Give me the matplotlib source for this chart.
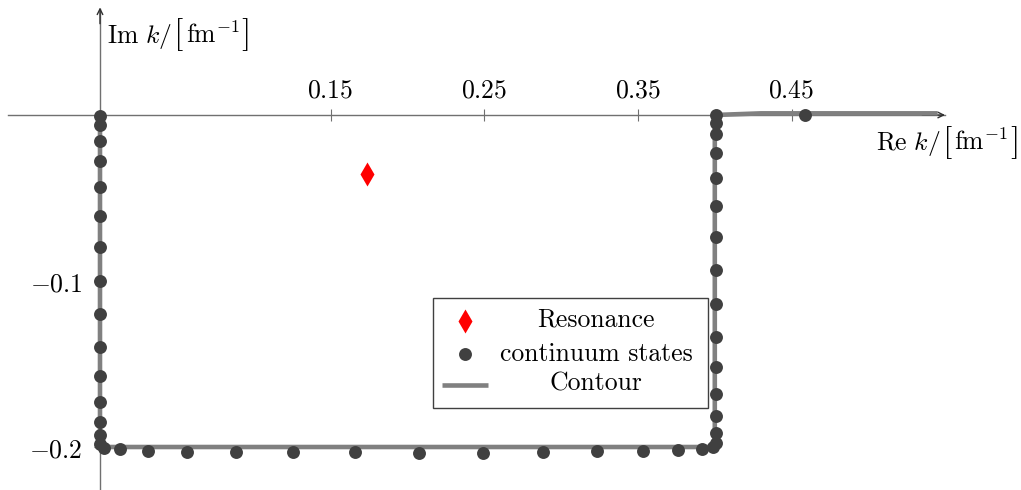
import matplotlib
matplotlib.use("Agg")
import matplotlib.pyplot as plt
from matplotlib.patches import Rectangle

plt.rcParams['mathtext.fontset'] = 'cm'
plt.rcParams['axes.unicode_minus'] = False

# ---- data ----
contour_re = [0.0, 0.0, 0.4, 0.4, 0.43, 0.545]
contour_im = [0.0, -0.2, -0.2, 0.0, 0.001, 0.001]

left_re = [0.0] * 15
left_im = [-0.0006, -0.0060, -0.0154, -0.0277, -0.0431, -0.0607, -0.0797, -0.1002,
           -0.1201, -0.1395, -0.1575, -0.1726, -0.1850, -0.1930, -0.1984]

bottom_re = [0.0026, 0.0130, 0.0315, 0.0568, 0.0885, 0.1254, 0.1659, 0.2078,
             0.2492, 0.2885, 0.3234, 0.3532, 0.3759, 0.3915, 0.3991]
bottom_im = [-0.2008, -0.2014, -0.2024, -0.2028, -0.2032, -0.2032, -0.2032, -0.2034,
             -0.2034, -0.2030, -0.2026, -0.2022, -0.2018, -0.2014, -0.1998]

right_re = [0.4010] * 15
right_im = [-0.1978, -0.1918, -0.1813, -0.1681, -0.1520, -0.1336, -0.1139, -0.0934,
            -0.0733, -0.0548, -0.0381, -0.0231, -0.0116, -0.0046, 0.0]

extra_re = [0.4587]
extra_im = [0.0]

res_re = [0.1737]
res_im = [-0.0355]

xticks = [0.15, 0.25, 0.35, 0.45]
xticklabels = ['$0.15$', '$0.25$', '$0.35$', '$0.45$']
yticks = [-0.1, -0.2]
yticklabels = ['$-0.1$', '$-0.2$']

legend_labels = ['Resonance', 'continuum states', 'Contour']

# ---- style ----
axcol = '#707070'
dotcol = '#404040'
contcol = '#808080'
fs = 18.5
W, H = 1021, 490

fig = plt.figure(figsize=(W / 100, H / 100), dpi=100)
ax = fig.add_axes([0, 0, 1, 1])
ax.set_xlim(-0.06506, 0.59922)
ax.set_ylim(-0.22590, 0.06928)
ax.patch.set_alpha(0)

for s in ['bottom', 'right']:
    ax.spines[s].set_visible(False)
ax.spines['top'].set_position(('data', 0))
ax.spines['left'].set_position(('data', 0))
ax.spines['top'].set_bounds(-0.0599, 0.5495)
ax.spines['left'].set_bounds(-0.2259, 0.0640)
for s in ['top', 'left']:
    ax.spines[s].set_color(axcol)
    ax.spines[s].set_linewidth(1.0)
    ax.spines[s].set_zorder(1)

ax.xaxis.set_ticks_position('top')
ax.yaxis.set_ticks_position('left')
ax.set_xticks(xticks, labels=xticklabels)
ax.set_yticks(yticks, labels=yticklabels)
ax.tick_params(axis='x', direction='inout', length=8, width=0.8, color=axcol,
               pad=4.5, labelsize=fs)
ax.tick_params(axis='y', direction='inout', length=8, width=0.8, color=axcol,
               pad=8.5, labelsize=fs)

# arrow heads
ax.annotate('', xy=(0.5498, 0), xytext=(0.535, 0),
            arrowprops=dict(arrowstyle='->', lw=1.0, color='#303030',
                            shrinkA=0, shrinkB=0, mutation_scale=10))
ax.annotate('', xy=(0, 0.0648), xytext=(0, 0.055),
            arrowprops=dict(arrowstyle='->', lw=1.0, color='#303030',
                            shrinkA=0, shrinkB=0, mutation_scale=10))

# axis labels with enlarged brackets
renderer = fig.canvas.get_renderer()


def compound_label(x_px, base_px, pieces, align='left', gap=1.5):
    """pieces: list of (text, size_factor); placed left to right on one baseline."""
    texts = []
    widths = []
    for txt, k in pieces:
        t = fig.text(0, 0, txt, fontsize=fs * k, ha='left', va='baseline')
        bb = t.get_window_extent(renderer)
        texts.append((t, k))
        widths.append(bb.width)
    total = sum(widths) + gap * (len(pieces) - 1)
    x = x_px if align == 'left' else x_px - total
    for (t, k), w in zip(texts, widths):
        dy = 0.05 * fs * (k - 1) * 100 / 72 if k != 1 else 0.0
        t.set_position((x / W, 1 - (base_px + dy) / H))
        x += w + gap


br = 1.3
compound_label(107, 43, [(r'$\mathrm{Im}\ k/$', 1), (r'$[$', br),
                         (r'$\mathrm{fm}^{-1}$', 1), (r'$]$', br)], 'left')
compound_label(1017, 150.5, [(r'$\mathrm{Re}\ k/$', 1), (r'$[$', br),
                             (r'$\mathrm{fm}^{-1}$', 1), (r'$]$', br)], 'right')

# contour and points
ax.plot(contour_re, contour_im, color=contcol, lw=3.3, zorder=3,
        solid_joinstyle='miter', solid_capstyle='butt')
for xs, ys in [(left_re, left_im), (bottom_re, bottom_im),
               (right_re, right_im), (extra_re, extra_im)]:
    ax.plot(xs, ys, 'o', color=dotcol, ms=9.3, mec='none', zorder=4)
ax.plot(res_re, res_im, 'd', color='#ff0000', ms=12.5, mec='none', zorder=5)

# manual legend (centered labels)
tr = ax.transAxes
ax.add_patch(Rectangle((0.4241, 0.1673), 0.2693, 0.2245, transform=tr,
                       facecolor='white', edgecolor='#404040', lw=1.0, zorder=6))
ax.plot([0.4554], [0.3449], 'd', color='#ff0000', ms=12, mec='none',
        transform=tr, zorder=7)
ax.plot([0.4554], [0.2776], 'o', color=dotcol, ms=9.3, mec='none',
        transform=tr, zorder=7)
ax.plot([0.4329, 0.4780], [0.2153, 0.2153], color=contcol, lw=3.3,
        transform=tr, zorder=7, solid_capstyle='butt')
for lab, yy in zip(legend_labels, [0.3469, 0.2770, 0.2163]):
    ax.text(0.5837, yy, lab, transform=tr, ha='center', va='center',
            fontsize=fs, family='cmr10', zorder=8)

fig.savefig('out.png', dpi=100)
